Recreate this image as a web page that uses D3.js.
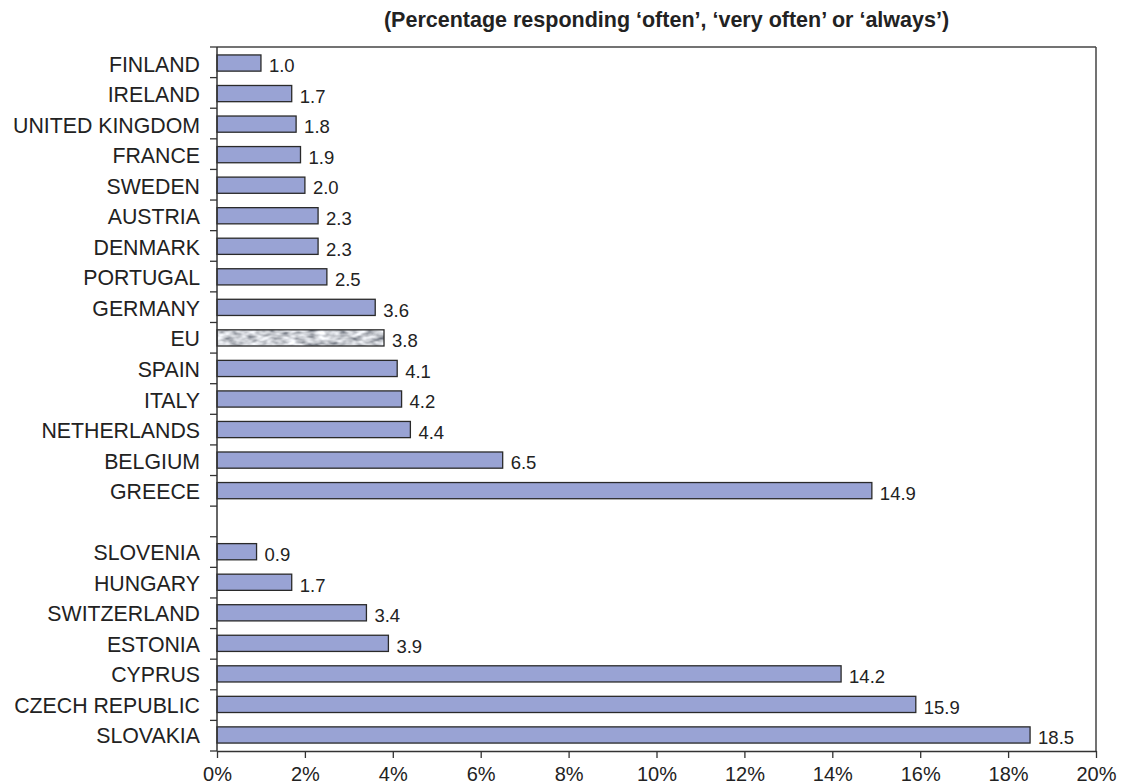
<!DOCTYPE html>
<html>
<head>
<meta charset="utf-8">
<script src="https://cdn.jsdelivr.net/npm/d3@7"></script>
<style>
  html, body { margin: 0; padding: 0; background: #fff; }
  svg { display: block; font-family: "Liberation Sans", Arial, Helvetica, sans-serif; }
</style>
</head>
<body>
<svg id="chart" width="1124" height="784"></svg>
<script>
// EU member states (plus the EU average), then other European countries
const groupA = ["FINLAND", "IRELAND", "UNITED KINGDOM", "FRANCE", "SWEDEN", "AUSTRIA",
  "DENMARK", "PORTUGAL", "GERMANY", "EU", "SPAIN", "ITALY", "NETHERLANDS", "BELGIUM", "GREECE"];
const valuesA = [1.0, 1.7, 1.8, 1.9, 2.0, 2.3, 2.3, 2.5, 3.6, 3.8, 4.1, 4.2, 4.4, 6.5, 14.9];

const groupB = ["SLOVENIA", "HUNGARY", "SWITZERLAND", "ESTONIA", "CYPRUS", "CZECH REPUBLIC", "SLOVAKIA"];
const valuesB = [0.9, 1.7, 3.4, 3.9, 14.2, 15.9, 18.5];

const xTicks = [0, 2, 4, 6, 8, 10, 12, 14, 16, 18, 20];
const title = "(Percentage responding \u2018often\u2019, \u2018very often\u2019 or \u2018always\u2019)";
const highlighted = "EU";

const SPACER = "__gap__";
const rows = groupA.map((c, i) => ({ key: c, label: c, value: valuesA[i] }))
  .concat([{ key: SPACER, label: "", value: null }])
  .concat(groupB.map((c, i) => ({ key: c, label: c, value: valuesB[i] })));

const width = 1124, height = 784;
const margin = { top: 47, right: 28, bottom: 33, left: 217 };
const innerW = width - margin.left - margin.right;
const innerH = height - margin.top - margin.bottom;

const svg = d3.select("#chart");

// grainy grey fill used for the EU average bar
const defs = svg.append("defs");
const noise = defs.append("filter").attr("id", "grain")
  .attr("x", 0).attr("y", 0).attr("width", 1).attr("height", 1);
noise.append("feTurbulence").attr("type", "fractalNoise")
  .attr("baseFrequency", "0.1 0.2").attr("numOctaves", 2).attr("seed", 7);
noise.append("feColorMatrix").attr("type", "matrix")
  .attr("values", "1.4 0 0 0 -0.1  1.4 0 0 0 -0.08  1.4 0 0 0 -0.04  0 0 0 0 1");
noise.append("feGaussianBlur").attr("stdDeviation", 0.7);
const pat = defs.append("pattern").attr("id", "grainFill")
  .attr("patternUnits", "userSpaceOnUse").attr("width", 240).attr("height", 40);
pat.append("rect").attr("width", 240).attr("height", 40).attr("filter", "url(#grain)");

const g = svg.append("g").attr("transform", `translate(${margin.left},${margin.top})`);

const x = d3.scaleLinear().domain([0, 20]).range([0, innerW]);
const y = d3.scaleBand().domain(rows.map(d => d.key)).range([0, innerH]).paddingInner(0.47).paddingOuter(0.26);

// frame: top and right edges
g.append("line").attr("x1", 0).attr("x2", innerW).attr("y1", 0).attr("y2", 0)
  .attr("stroke", "#444").attr("stroke-width", 1.5);
g.append("line").attr("x1", innerW).attr("x2", innerW).attr("y1", 0).attr("y2", innerH)
  .attr("stroke", "#444").attr("stroke-width", 1.5);

// bars
const bars = rows.filter(d => d.value !== null);
g.selectAll("rect.bar").data(bars).join("rect")
  .attr("class", "bar")
  .attr("x", x(0))
  .attr("y", d => y(d.key))
  .attr("width", d => x(d.value) - x(0))
  .attr("height", y.bandwidth())
  .attr("fill", d => d.key === highlighted ? "url(#grainFill)" : "#99a3d4")
  .attr("stroke", "#2a2a2a")
  .attr("stroke-width", 1.3);

// value labels
const fmt = d3.format(".1f");
g.selectAll("text.val").data(bars).join("text")
  .attr("class", "val")
  .attr("x", d => x(d.value) + 8)
  .attr("y", d => y(d.key) + y.bandwidth() / 2)
  .attr("dy", "0.5em")
  .attr("font-size", 18.5)
  .attr("fill", "#222")
  .text(d => fmt(d.value));

// category axis: labels at band centres, ticks on band boundaries
const boundaries = d3.range(rows.length + 1).map(i => i * (innerH / rows.length));
g.append("line").attr("x1", 0).attr("x2", 0).attr("y1", 0).attr("y2", innerH)
  .attr("stroke", "#333").attr("stroke-width", 1.5);
g.selectAll("line.ytick").data(boundaries).join("line")
  .attr("class", "ytick")
  .attr("x1", -7).attr("x2", 0)
  .attr("y1", d => d).attr("y2", d => d)
  .attr("stroke", "#333").attr("stroke-width", 1.3);
g.selectAll("text.cat").data(rows).join("text")
  .attr("class", "cat")
  .attr("x", -17)
  .attr("y", d => y(d.key) + y.bandwidth() / 2)
  .attr("dy", "0.4em")
  .attr("text-anchor", "end")
  .attr("font-size", 21.3)
  .attr("fill", "#222")
  .text(d => d.label);

// percentage axis
const xAxis = d3.axisBottom(x).tickValues(xTicks).tickFormat(d => d + "%").tickSize(7).tickSizeOuter(0);
const xa = g.append("g").attr("transform", `translate(0,${innerH})`).call(xAxis);
xa.select(".domain").attr("stroke", "#333").attr("stroke-width", 1.5);
xa.selectAll(".tick line").attr("stroke", "#333").attr("stroke-width", 1.3);
xa.selectAll(".tick text").attr("font-size", 20).attr("fill", "#222")
  .attr("font-family", "'Liberation Sans', Arial, sans-serif").attr("dy", "1.0em");

// subtitle
svg.append("text")
  .attr("x", margin.left + innerW / 2 + 10)
  .attr("y", 27)
  .attr("text-anchor", "middle")
  .attr("font-size", 21.5)
  .attr("font-weight", "bold")
  .attr("fill", "#222")
  .text(title);
</script>
</body>
</html>
